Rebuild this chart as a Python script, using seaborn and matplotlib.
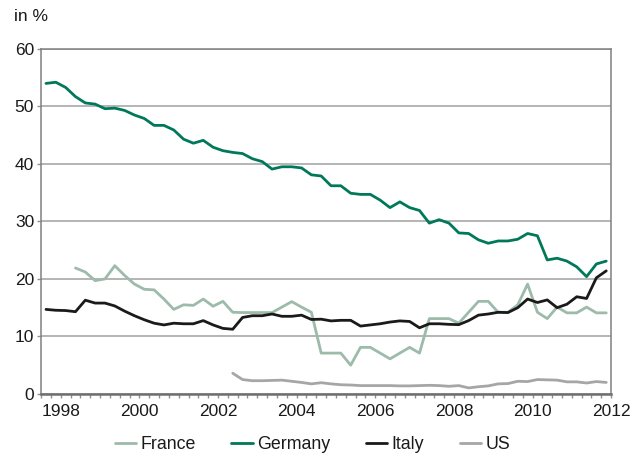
import numpy as np
import pandas as pd
import matplotlib
matplotlib.use("Agg")
import matplotlib.pyplot as plt
from matplotlib.ticker import MultipleLocator
import seaborn as sns

# Quarterly observations, 1997 Q3 - 2011 Q4 (plotted at mid-quarter)
start_year = 1997.625
n_quarters = 58

germany = [54.0, 54.2, 53.3, 51.7, 50.6, 50.4, 49.6, 49.7, 49.3, 48.5,
           47.9, 46.7, 46.7, 45.9, 44.3, 43.6, 44.1, 42.9, 42.3, 42.0,
           41.8, 40.9, 40.4, 39.1, 39.5, 39.5, 39.3, 38.1, 37.9, 36.2,
           36.2, 34.9, 34.7, 34.7, 33.7, 32.4, 33.4, 32.4, 31.9, 29.7,
           30.3, 29.7, 28.0, 27.9, 26.8, 26.2, 26.6, 26.6, 26.9, 27.9,
           27.5, 23.3, 23.6, 23.1, 22.1, 20.4, 22.6, 23.1]

italy = [14.7, 14.55, 14.5, 14.3, 16.3, 15.8, 15.8, 15.3, 14.4, 13.6,
         12.9, 12.3, 12.0, 12.3, 12.2, 12.2, 12.75, 12.0, 11.4, 11.25,
         13.3, 13.6, 13.6, 13.9, 13.5, 13.5, 13.7, 12.95, 13.0, 12.7,
         12.8, 12.8, 11.8, 12.0, 12.2, 12.5, 12.7, 12.6, 11.5, 12.2,
         12.2, 12.1, 12.05, 12.75, 13.7, 13.9, 14.2, 14.15, 15.0, 16.5,
         15.9, 16.35, 15.0, 15.6, 16.9, 16.6, 20.2, 21.4]

# France series begins in the 4th quarter of the range
france_offset = 3
france = [21.9, 21.2, 19.7, 20.0, 22.3, 20.6, 19.1, 18.2, 18.1, 16.5,
          14.7, 15.5, 15.4, 16.5, 15.25, 16.1, 14.2, 14.15, 14.15, 14.15,
          14.15, 15.1, 16.05, 15.1, 14.2, 7.1, 7.1, 7.1, 5.0, 8.1,
          8.1, 7.1, 6.1, 7.1, 8.1, 7.1, 13.1, 13.1, 13.1, 12.3,
          14.2, 16.1, 16.1, 14.2, 14.2, 15.5, 19.1, 14.2, 13.1, 15.1,
          14.1, 14.1, 15.1, 14.1, 14.1]

# US series begins in 2002
us_offset = 19
us = [3.6, 2.5, 2.3, 2.3, 2.35, 2.4, 2.2, 2.0, 1.75, 1.95,
      1.75, 1.6, 1.55, 1.45, 1.45, 1.45, 1.45, 1.4, 1.4, 1.45,
      1.5, 1.45, 1.33, 1.45, 1.05, 1.25, 1.4, 1.75, 1.8, 2.2,
      2.15, 2.5, 2.45, 2.4, 2.1, 2.1, 1.9, 2.15, 2.0]

year_ticks = [1998, 2000, 2002, 2004, 2006, 2008, 2010, 2012]
y_ticks = [0, 10, 20, 30, 40, 50, 60]

countries = ["France", "Germany", "Italy", "US"]
colors = {"France": "#9dbbaa", "Germany": "#00785a",
          "Italy": "#1a1a1a", "US": "#a6a6a6"}

quarters = start_year + 0.25 * np.arange(n_quarters)


def frame(name, values, offset=0):
    return pd.DataFrame({"time": quarters[offset:offset + len(values)],
                         "value": values, "country": name})


df = pd.concat([frame("France", france, france_offset),
                frame("Germany", germany),
                frame("Italy", italy),
                frame("US", us, us_offset)], ignore_index=True)

sns.set_theme(style="white")
plt.rcParams["font.family"] = ["Liberation Sans", "DejaVu Sans"]

fig = plt.figure(figsize=(6.32, 4.57), dpi=100)
ax = fig.add_axes([0.065, 0.138, 0.902, 0.755])

sns.lineplot(data=df, x="time", y="value", hue="country",
             hue_order=countries, palette=colors, linewidth=2.0,
             ax=ax, legend=True)

ax.set_xlim(1997.5, 2012.0)
ax.set_ylim(0, 60)
ax.set_xticks(year_ticks)
ax.set_xticklabels([str(y) for y in year_ticks])
ax.xaxis.set_minor_locator(MultipleLocator(0.25))
ax.set_yticks(y_ticks)
ax.set_xlabel("")
ax.set_ylabel("")

ax.yaxis.grid(True, color="#a0a0a0", linewidth=1.1)
ax.xaxis.grid(False)
ax.set_axisbelow(True)

for side in ["top", "right", "left"]:
    ax.spines[side].set_color("#808080")
    ax.spines[side].set_linewidth(1.1)
ax.spines["bottom"].set_color("#707070")
ax.spines["bottom"].set_linewidth(1.8)

ax.tick_params(axis="x", which="both", direction="out", length=3,
               width=1, color="#909090", labelsize=12.5, pad=4,
               bottom=True, labelcolor="#1a1a1a")
ax.tick_params(axis="y", direction="out", length=3, width=1,
               color="#909090", labelsize=12.5, pad=2, left=True,
               labelcolor="#1a1a1a")

fig.text(0.022, 0.963, "in %", fontsize=12.5, color="#1a1a1a",
         ha="left", va="center")

handles, labels = ax.get_legend_handles_labels()
ax.legend(handles, labels, loc="upper center", bbox_to_anchor=(0.476, -0.092),
          ncol=4, frameon=False, fontsize=12.8, handlelength=1.2,
          handletextpad=0.25, columnspacing=2.0, labelcolor="#1a1a1a",
          borderaxespad=0.2)

fig.savefig("out.png", dpi=100)
